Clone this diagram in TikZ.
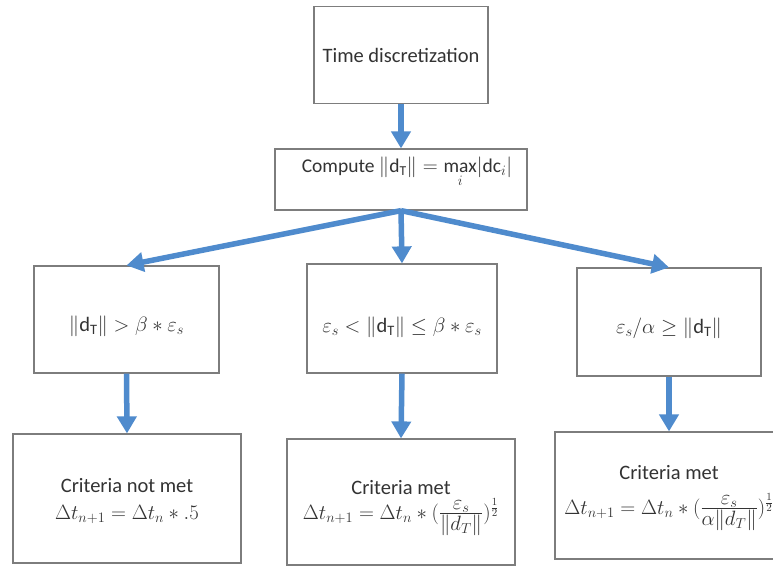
\documentclass[tikz,border=0pt]{standalone}
\usepackage{fontspec}
\setmainfont{Carlito}
\usepackage{amsmath}
\usetikzlibrary{arrows.meta}
\definecolor{arrowblue}{RGB}{79,139,205}
\definecolor{boxgray}{RGB}{125,125,125}
\begin{document}
\begin{tikzpicture}[x=1pt,y=-1pt,
  box/.style={draw=boxgray, line width=1.2pt, rectangle, inner sep=0pt, fill=white},
  txt/.style={font=\fontsize{20.5}{24}\selectfont, inner sep=0pt, anchor=base, text=black!80},
  mth/.style={font=\fontsize{22}{26}\selectfont, inner sep=0pt, anchor=base, text=black!80},
  flow/.style={draw=arrowblue, line width=5.5pt, -{Triangle[width=19pt,length=17pt]}}]
\clip (0,0) rectangle (773,566);
\fill[white] (0,0) rectangle (773,566);
% boxes
\node[box, minimum width=174pt, minimum height=97pt] (b1) at (401,55) {};
\node[box, minimum width=252pt, minimum height=61pt] (b2) at (401,179.5) {};
\node[box, minimum width=185pt, minimum height=107pt] (l2) at (126.5,319.5) {};
\node[box, minimum width=190pt, minimum height=109pt] (m2) at (402,318.5) {};
\node[box, minimum width=184pt, minimum height=108pt] (r2) at (669,322) {};
\node[box, minimum width=228pt, minimum height=129pt] (l3) at (127,498.5) {};
\node[box, minimum width=228pt, minimum height=126pt] (m3) at (401,502) {};
\node[box, minimum width=228pt, minimum height=127pt] (r3) at (669,495.5) {};
% texts
\node[txt] (t1) at (401,62) {Time discretization};
\node[txt, font=\fontsize{19.5}{23}\selectfont] (t2) at (407,172) {Compute $\lVert\mathrm{d_T}\rVert = \max\limits_{i}\lvert\mathrm{dc}_i\rvert$};
\node[txt] (tl2) at (126.5,331) {$\lVert\mathrm{d_T}\rVert > \beta * \varepsilon_s$};
\node[txt] (tm2) at (402,332) {$\varepsilon_s < \lVert\mathrm{d_T}\rVert \le \beta * \varepsilon_s$};
\node[txt] (tr2) at (669,333) {$\varepsilon_s/\alpha \ge \lVert\mathrm{d_T}\rVert$};
\node[txt] (tl3a) at (127,492) {Criteria not met};
\node[mth] (tl3b) at (127,519) {$\Delta t_{n+1} = \Delta t_n * .5$};
\node[txt] (tm3a) at (401,494) {Criteria met};
\node[mth] (tm3b) at (401,519) {$\Delta t_{n+1} = \Delta t_n * (\frac{\textstyle\varepsilon_s}{\textstyle\lVert d_T\rVert})^{\frac{1}{2}}$};
\node[txt] (tr3a) at (669,479) {Criteria met};
\node[mth] (tr3b) at (669,514) {$\Delta t_{n+1} = \Delta t_n * (\frac{\textstyle\varepsilon_s}{\textstyle\alpha\lVert d_T\rVert})^{\frac{1}{2}}$};
% connectors
\draw[flow] (b1.south) -- (b2.north);
\draw[flow] (b2.south) -- (l2.north);
\draw[flow] (b2.south) -- (m2.north);
\draw[flow] (b2.south) -- (r2.north);
\draw[flow] (l2.south) -- (l3.north);
\draw[flow] (m2.south) -- (m3.north);
\draw[flow] (r2.south) -- (r3.north);
\end{tikzpicture}
\end{document}
